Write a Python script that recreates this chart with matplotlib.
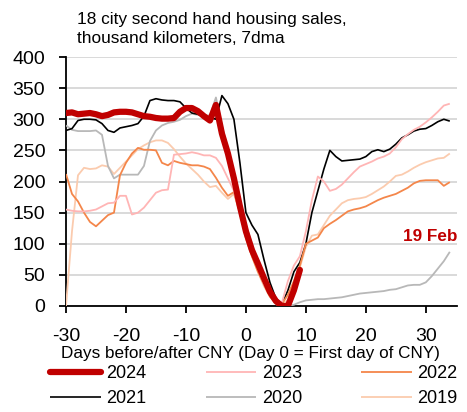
import numpy as np
import matplotlib
matplotlib.use('Agg')
import matplotlib.pyplot as plt

# ── Data ─────────────────────────────────────────────────────────────────────
days = list(range(-30, 35))

y2024 = [310, 311, 308, 309, 310, 308, 305, 307, 311, 312, 312, 311, 308, 305, 304, 302, 301, 301, 302, 312,
         318, 318, 313, 305, 298, 323, 277, 245, 205, 160, 120, 90, 68, 45, 23, 8, 0, 0, 25, 58]
y2023 = [155, 153, 152, 152, 153, 155, 160, 165, 166, 177, 177, 147, 150, 158, 170, 182, 186, 187, 243, 244,
         245, 247, 245, 242, 242, 238, 225, 205, 185, 150, 110, 85, 60, 35, 18, 5, 5, 40, 65, 80,
         120, 170, 208, 200, 185, 188, 195, 205, 215, 224, 228, 232, 237, 240, 245, 255, 268, 276, 283, 288,
         295, 303, 312, 322, 325]
y2022 = [212, 180, 168, 150, 135, 128, 137, 146, 150, 210, 230, 245, 254, 251, 251, 250, 230, 226, 233, 230,
         228, 226, 226, 224, 220, 206, 190, 177, 183, 150, 110, 80, 55, 35, 15, 5, 3, 18, 40, 65,
         100, 105, 110, 125, 132, 138, 145, 152, 155, 157, 160, 165, 170, 174, 177, 180, 185, 190, 197, 201,
         202, 202, 202, 193, 199]
y2021 = [282, 285, 298, 300, 300, 299, 293, 282, 279, 286, 288, 290, 293, 305, 330, 333, 331, 330, 330, 328,
         318, 310, 308, 305, 303, 300, 338, 325, 300, 230, 150, 130, 115, 75, 38, 12, 3, 25, 55, 70,
         100, 150, 185, 220, 250, 240, 233, 234, 235, 236, 240, 248, 251, 248, 252, 260, 270, 275, 281, 284,
         285, 290, 296, 300, 297]
y2020 = [290, 283, 281, 281, 281, 282, 275, 225, 205, 211, 211, 211, 211, 225, 265, 282, 290, 294, 296, 299,
         305, 309, 307, 306, 306, 335, 290, 250, 215, 170, 130, 100, 70, 40, 20, 5, 0, 0, 2, 6,
         9, 10, 11, 11, 12, 13, 14, 16, 18, 20, 21, 22, 23, 24, 26, 27, 30, 33, 34, 34,
         38, 48, 60, 72, 87]
y2019 = [0, 120, 210, 222, 220, 221, 226, 224, 212, 222, 232, 242, 252, 258, 263, 266, 266, 262, 252, 240,
         229, 220, 211, 200, 191, 193, 182, 172, 180, 150, 108, 80, 55, 32, 15, 3, 0, 10, 38, 62,
         95, 113, 115, 130, 145, 155, 165, 170, 172, 173, 175, 180, 186, 192, 200, 209, 211, 216, 222, 227,
         231, 234, 237, 238, 245]

years = ['2024', '2023', '2022', '2021', '2020', '2019']
colors = {'2024': '#C00000', '2023': '#FFB5B5', '2022': '#F4864A',
          '2021': '#000000', '2020': '#B8B8B8', '2019': '#FBCBAE'}
widths = {'2024': 4.5, '2023': 1.3, '2022': 1.3, '2021': 1.2, '2020': 1.3, '2019': 1.3}
series = {'2024': y2024, '2023': y2023, '2022': y2022, '2021': y2021, '2020': y2020, '2019': y2019}

plt.rcParams['font.family'] = ['Liberation Sans', 'DejaVu Sans']
plt.rcParams['axes.unicode_minus'] = False

# ── Plot ─────────────────────────────────────────────────────────────────────
fig = plt.figure(figsize=(4.67, 4.12), dpi=100, facecolor='white')
ax = fig.add_axes([66/467, 1 - 306/412, (457-66)/467, (306-57)/412])

handles = {}
for yr in years[::-1]:
    vals = series[yr]
    (h,) = ax.plot(days[:len(vals)], vals, color=colors[yr], lw=widths[yr],
                   solid_capstyle='round' if yr == '2024' else 'butt',
                   zorder=5 if yr == '2024' else 3)
    handles[yr] = h

ax.set_xlim(-30, 35.2)
ax.set_ylim(0, 400)
ax.set_xticks(range(-30, 31, 10))
ax.set_yticks(range(0, 401, 50))
ax.yaxis.grid(True, color='#D9D9D9', lw=1.4, zorder=0)
ax.set_axisbelow(True)
for s in ('top', 'right'):
    ax.spines[s].set_visible(False)
for s in ('left', 'bottom'):
    ax.spines[s].set_linewidth(1.3)
ax.tick_params(axis='both', direction='out', length=5, width=1.3, labelsize=14)
ax.tick_params(axis='x', pad=10.5)
ax.tick_params(axis='y', pad=10)
ax.set_xlabel('Days before/after CNY (Day 0 = First day of CNY)', fontsize=12.3, labelpad=0)
ax.xaxis.set_label_coords((250 - 66) / 391, -0.16)

ax.text(35.2, 111, '19 Feb', ha='right', va='center', fontsize=12.3, fontweight='bold', color='#C00000')

fig.text(77/467, 1 - 12/412, '18 city second hand housing sales,\nthousand kilometers, 7dma',
         ha='left', va='top', fontsize=12.4, linespacing=1.35)

order = ['2024', '2021', '2023', '2020', '2022', '2019']
fig.legend([handles[k] for k in order], order, ncol=3, loc='upper left',
           bbox_to_anchor=(50/467, 1 - 365/412), frameon=False, fontsize=13,
           handlelength=2.8, handletextpad=0.3, columnspacing=3.3,
           labelspacing=0.45, borderpad=0, borderaxespad=0)

fig.savefig('out.png', dpi=100, facecolor='white')
